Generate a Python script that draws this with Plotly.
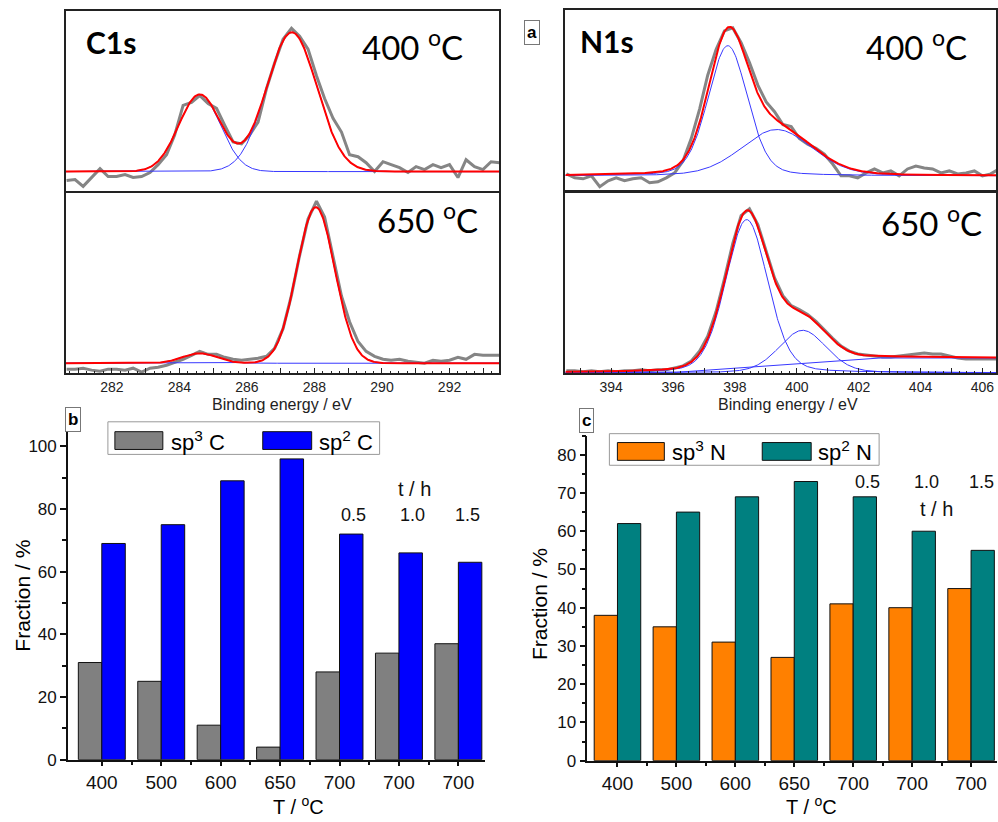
import numpy as np
import plotly.graph_objects as go

# ---------------- DATA ----------------
# XPS energy samples (eV) and measured intensities (arb. units, baseline = 0)
c_energy = [280.66, 280.91, 281.15, 281.40, 281.65, 281.89, 282.14, 282.39, 282.63, 282.88,
            283.13, 283.37, 283.62, 283.86, 284.11, 284.36, 284.60, 284.85, 285.10, 285.34,
            285.59, 285.84, 286.08, 286.33, 286.58, 286.82, 287.07, 287.32, 287.56, 287.81,
            288.06, 288.30, 288.55, 288.80, 289.04, 289.29, 289.53, 289.78, 290.03, 290.27,
            290.52, 290.77, 291.01, 291.26, 291.51, 291.75, 292.00, 292.25, 292.49, 292.74,
            292.99, 293.23, 293.48]
c400_counts = [-9, -8, -15, -6, 3, -5, -5, -3, -6, -5, -1, 7, 17, 37, 67, 70, 77, 69, 64, 47,
               30, 28, 37, 50, 84, 110, 134, 145, 137, 124, 97, 74, 54, 40, 17, 15, 9, 0, 10, 7,
               4, -1, 5, 2, 7, 4, 7, -6, 12, 5, 2, 10, 9]
c650_counts = [-6, -6, -5, -7, -8, -6, -6, -7, -5, -9, -5, -4, -2, 1, 4, 8, 12, 9, 9, 6,
               4, 3, 4, 5, 7, 15, 35, 69, 109, 146, 164, 148, 108, 68, 42, 22, 12, 7, 4, 3,
               4, 2, 1, 0, 3, 2, 3, 6, 4, 9, 8, 8, 8]
n_energy = [392.55, 392.82, 393.09, 393.36, 393.63, 393.90, 394.16, 394.43, 394.70, 394.97,
            395.24, 395.51, 395.78, 396.05, 396.32, 396.59, 396.86, 397.12, 397.39, 397.66,
            397.93, 398.20, 398.47, 398.74, 399.01, 399.28, 399.55, 399.82, 400.08, 400.35,
            400.62, 400.89, 401.16, 401.43, 401.70, 401.97, 402.24, 402.51, 402.78, 403.04,
            403.31, 403.58, 403.85, 404.12, 404.39, 404.66, 404.93, 405.20, 405.47, 405.74,
            406.00, 406.27, 406.54]
n400_counts = [2, -2, -3, 0, -11, -5, -2, -5, -3, -2, -7, -6, -2, 3, 15, 38, 68, 102, 128, 147,
               150, 135, 115, 92, 75, 65, 52, 50, 38, 32, 28, 22, 12, 0, 0, -2, 3, 7, 3, 5,
               0, 7, 10, 8, 7, 3, 5, 2, 3, 5, 0, 2, 7]
n650_counts = [2, 2, 1, 2, 1, 2, 1, 2, 2, 3, 2, 3, 3, 5, 7, 12, 22, 37, 62, 95,
               131, 159, 166, 150, 122, 96, 78, 68, 64, 59, 52, 43, 35, 27, 22, 19, 18, 17, 16, 16,
               17, 18, 19, 20, 19, 19, 17, 15, 14, 14, 14, 14, 14]

# fitted components: centre (eV), height, FWHM (eV), Lorentzian share
c400_center = [284.60, 287.33]
c400_height = [78, 141]
c400_fwhm = [1.45, 1.75]
c650_center = [284.60, 288.04]
c650_height = [10, 158]
c650_fwhm = [1.20, 1.32]
n400_center = [397.77, 399.35]
n400_height = [132, 47]
n400_fwhm = [1.50, 2.70]
n650_center = [398.38, 400.19]
n650_height = [155, 43]
n650_fwhm = [1.60, 1.80]
c_lorentz_share = 0.0
n_lorentz_share = 0.2
n650_bg_energy = [392.5, 396.1, 402.7, 406.6]
n650_bg_level = [0.5, 0.5, 15, 15]

# bar charts
temps = ["400", "500", "600", "650", "700", "700", "700"]
c_sp3 = [31, 25, 11, 4, 28, 34, 37]
c_sp2 = [69, 75, 89, 96, 72, 66, 63]
n_sp3 = [38, 35, 31, 27, 41, 40, 45]
n_sp2 = [62, 65, 69, 73, 69, 60, 55]
times = ["0.5", "1.0", "1.5"]

# ---------------- FIGURE ----------------
W, H = 998, 822
def PX(x): return x / W
def PY(y): return 1 - y / H

C_RANGE = [280.64, 293.48]
N_RANGE = [392.52, 406.44]

def peak(e, c, h, w, eta):
    q = ((e - c) / w) ** 2
    return h * ((1 - eta) * np.exp(-4 * np.log(2) * q) + eta / (1 + 4 * q))

fig = go.Figure()

GRAY, BLUE, RED = "#858585", "#3838FF", "#FF0000"

def add_spectrum(xa, ya, energy, counts, centers, heights, fwhms, eta, rng, bg=None):
    grid = np.linspace(rng[0], rng[1], 700)
    fig.add_trace(go.Scatter(x=energy, y=counts, mode="lines", xaxis=xa, yaxis=ya,
                             line=dict(color=GRAY, width=3), showlegend=False))
    total = np.zeros_like(grid)
    if bg is not None:
        fig.add_trace(go.Scatter(x=bg[0], y=bg[1], mode="lines", xaxis=xa, yaxis=ya,
                                 line=dict(color=BLUE, width=1), showlegend=False))
        total += np.interp(grid, bg[0], bg[1])
    for c, h, w in zip(centers, heights, fwhms):
        comp = peak(grid, c, h, w, eta)
        total += comp
        fig.add_trace(go.Scatter(x=grid, y=comp, mode="lines", xaxis=xa, yaxis=ya,
                                 line=dict(color=BLUE, width=1), showlegend=False))
    fig.add_trace(go.Scatter(x=grid, y=total, mode="lines", xaxis=xa, yaxis=ya,
                             line=dict(color=RED, width=2), showlegend=False))

add_spectrum("x", "y", c_energy, c400_counts, c400_center, c400_height, c400_fwhm,
             c_lorentz_share, C_RANGE)
add_spectrum("x2", "y2", c_energy, c650_counts, c650_center, c650_height, c650_fwhm,
             c_lorentz_share, C_RANGE)
add_spectrum("x3", "y3", n_energy, n400_counts, n400_center, n400_height, n400_fwhm,
             n_lorentz_share, N_RANGE)
add_spectrum("x4", "y4", n_energy, n650_counts, n650_center, n650_height, n650_fwhm,
             n_lorentz_share, N_RANGE, bg=(n650_bg_energy, n650_bg_level))

pos = list(range(len(temps)))
def add_bars(xa, ya, v1, v2, col1, col2):
    for v, col in ((v1, col1), (v2, col2)):
        fig.add_trace(go.Bar(x=pos, y=v, xaxis=xa, yaxis=ya, marker=dict(color=col,
                             line=dict(color="#111", width=1)), showlegend=False))

add_bars("x5", "y5", c_sp3, c_sp2, "#808080", "#0000FF")
add_bars("x6", "y6", n_sp3, n_sp2, "#FF8000", "#008080")

FONT = "Liberation Sans"
def spec_x(rng, dom, show, lo, hi, anchor):
    vals = list(range(lo, hi + 1))
    return dict(domain=dom, range=rng, anchor=anchor, showline=True, mirror=True,
                linecolor="#222", linewidth=1.5, showgrid=False, zeroline=False,
                tickmode="array", tickvals=vals,
                ticktext=[str(v) if v % 2 == 0 else "" for v in vals],
                ticks="inside" if show else "", ticklen=6, tickcolor="#222",
                showticklabels=show,
                tickfont=dict(family=FONT, size=14, color="#222"),
                minor=dict(tickmode="linear", tick0=lo, dtick=0.25,
                           ticks="inside" if show else "", ticklen=3, tickcolor="#222"))

def spec_y(rng, dom, anchor):
    return dict(domain=dom, range=rng, anchor=anchor, showline=True, mirror=True,
                linecolor="#222", linewidth=1.5, showgrid=False, zeroline=False,
                showticklabels=False, ticks="")

cx = [PX(66), PX(500)]
nx = [PX(566), PX(997)]
top_y = [PY(193), PY(11)]
bot_y = [PY(378), PY(195)]

fig.update_layout(
    xaxis=spec_x(C_RANGE, cx, False, 281, 293, "y"),
    yaxis=spec_y([-19.3, 162.7], top_y, "x"),
    xaxis2=spec_x(C_RANGE, cx, True, 281, 293, "y2"),
    yaxis2=spec_y([-10.3, 172.7], bot_y, "x2"),
    xaxis3=spec_x(N_RANGE, nx, False, 393, 406, "y3"),
    yaxis3=spec_y([-14.0, 168.3], [PY(192), PY(10)], "x3"),
    xaxis4=spec_x(N_RANGE, nx, True, 393, 406, "y4"),
    yaxis4=spec_y([-0.6, 182.3], bot_y, "x4"),
)

def bar_x(dom, rng, anchor):
    return dict(domain=dom, range=rng, anchor=anchor, tickmode="array", tickvals=pos,
                ticktext=temps, ticks="outside", ticklen=5, tickwidth=1.5, tickcolor="#111",
                showline=True, linecolor="#111", linewidth=1.5, showgrid=False, zeroline=False,
                tickfont=dict(family=FONT, size=19, color="#111"),
                minor=dict(tickmode="array", tickvals=[p + 0.5 for p in pos],
                           ticks="outside", ticklen=4, tickcolor="#111"))

def bar_y(dom, rng, dt, anchor):
    return dict(domain=dom, range=rng, anchor=anchor, dtick=dt, tick0=0, ticks="outside",
                ticklen=6, tickwidth=1.5, tickcolor="#111", showline=True, linecolor="#111",
                linewidth=1.5, showgrid=False, zeroline=False,
                tickfont=dict(family=FONT, size=17, color="#111"),
                minor=dict(dtick=dt / 2, ticks="outside", ticklen=4, tickcolor="#111"))

fig.update_layout(
    xaxis5=bar_x([PX(68), PX(485)], [-0.57, 6.44], "y5"),
    yaxis5=bar_y([PY(769), PY(436)], [0, 105], 20, "x5"),
    xaxis6=bar_x([PX(588), PX(998)], [-0.51, 6.44], "y6"),
    yaxis6=bar_y([PY(770), PY(441)], [0, 85], 10, "x6"),
    barmode="group", bargap=0.21, bargroupgap=0,
    width=W, height=H, margin=dict(l=0, r=0, t=0, b=0),
    paper_bgcolor="white", plot_bgcolor="white",
)

ann = []
def text(x, y, s, size, family="Lato", bold=False, anchor="center", color="#000", **kw):
    ann.append(dict(x=PX(x), y=PY(y), xref="paper", yref="paper", text=f"<b>{s}</b>" if bold else s,
                    showarrow=False, xanchor=anchor, yanchor="middle",
                    font=dict(family=family, size=size, color=color), **kw))

text(111, 43, "C1s", 30, bold=True)
text(413, 46, "400 <sup>o</sup>C", 33)
text(428, 221, "650 <sup>o</sup>C", 33)
text(608, 42, "N1s", 30, bold=True)
text(917, 46, "400 <sup>o</sup>C", 33)
text(932, 224, "650 <sup>o</sup>C", 33)
text(282, 409, "Binding energy / eV", 16, family=FONT, color="#222")
text(789, 409, "Binding energy / eV", 16, family=FONT, color="#222")

for lab, x, y in (("a", 533, 33), ("b", 73, 425), ("c", 587, 426)):
    text(x, y, lab, 17, family=FONT, bold=True, bordercolor="#777", borderwidth=1,
         borderpad=2, bgcolor="white")

# axis titles
text(23, 603, "Fraction / %", 21, family=FONT, textangle=-90)
text(540, 611, "Fraction / %", 21, family=FONT, textangle=-90)
text(299, 815, "T / <sup>o</sup>C", 20, family=FONT)
text(812, 815, "T / <sup>o</sup>C", 20, family=FONT)

# legends (drawn boxes)
shapes = []
def rect(x0, y0, x1, y1, fill, line="#111", lw=1):
    shapes.append(dict(type="rect", xref="paper", yref="paper", x0=PX(x0), x1=PX(x1),
                       y0=PY(y1), y1=PY(y0), fillcolor=fill, line=dict(color=line, width=lw)))

rect(108, 427, 380, 460, "white", "#999", 1)
rect(115, 437, 163, 455, "#808080")
rect(263, 437, 312, 455, "#0000FF")
text(169, 446, "sp<sup>3</sup> C", 22, family=FONT, anchor="left")
text(317, 446, "sp<sup>2</sup> C", 22, family=FONT, anchor="left")

rect(610, 439, 880, 471, "white", "#999", 1)
rect(618, 448, 665, 466, "#FF8000")
rect(763, 448, 812, 466, "#008080")
text(671, 457, "sp<sup>3</sup> N", 22, family=FONT, anchor="left")
text(817, 457, "sp<sup>2</sup> N", 22, family=FONT, anchor="left")

# time labels in data coordinates
for t, xv in zip(times, [4.24, 5.23, 6.15]):
    ann.append(dict(x=xv, y=78.2, xref="x5", yref="y5", text=t, showarrow=False,
                    font=dict(family=FONT, size=18, color="#111")))
ann.append(dict(x=5.26, y=86.4, xref="x5", yref="y5", text="t / h", showarrow=False,
                font=dict(family=FONT, size=20, color="#111")))
for t, xv in zip(times, [4.24, 5.25, 6.17]):
    ann.append(dict(x=xv, y=73.0, xref="x6", yref="y6", text=t, showarrow=False,
                    font=dict(family=FONT, size=18, color="#111")))
ann.append(dict(x=5.41, y=65.8, xref="x6", yref="y6", text="t / h", showarrow=False,
                font=dict(family=FONT, size=20, color="#111")))

fig.update_layout(annotations=ann, shapes=shapes)
fig.write_html("out.html")
